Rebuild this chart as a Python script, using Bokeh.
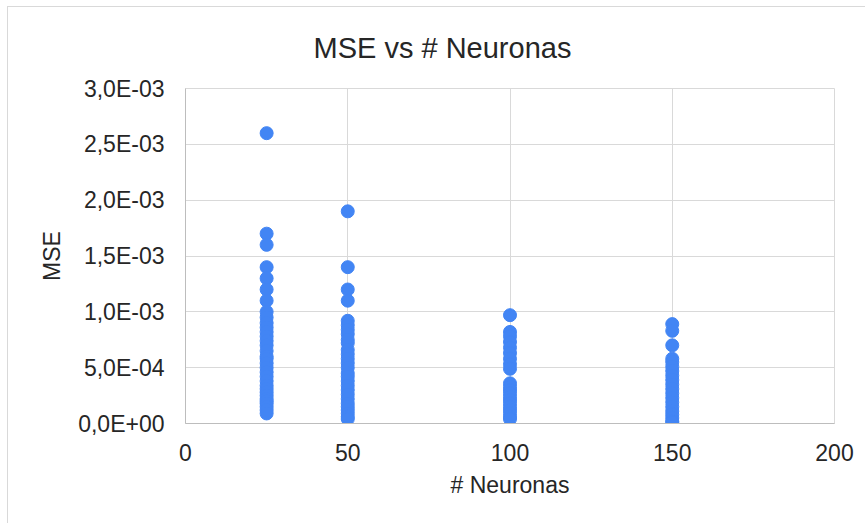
from bokeh.plotting import figure
from bokeh.models import FixedTicker, CustomJSTickFormatter, Range1d, Title
from bokeh.embed import file_html
from bokeh.resources import INLINE

# Data (MSE values)
neurons = [25, 50, 100, 150]
mse_25 = [2.6e-3, 1.7e-3, 1.6e-3, 1.4e-3, 1.3e-3, 1.2e-3, 1.1e-3, 1.0e-3, 9.5e-4, 9.0e-4,
          8.6e-4, 8.2e-4, 7.8e-4, 7.4e-4, 7.0e-4, 6.5e-4, 6.0e-4, 5.8e-4, 5.4e-4, 5.0e-4,
          4.6e-4, 4.2e-4, 3.8e-4, 3.4e-4, 3.1e-4, 2.8e-4, 2.5e-4, 2.2e-4, 2.0e-4, 1.8e-4,
          1.5e-4, 1.2e-4, 0.9e-4]
mse_50 = [1.9e-3, 1.4e-3, 1.2e-3, 1.1e-3, 9.2e-4, 8.8e-4, 8.4e-4, 8.0e-4, 7.5e-4, 7.2e-4,
          6.6e-4, 6.2e-4, 5.8e-4, 5.4e-4, 5.0e-4, 4.5e-4, 4.2e-4, 3.8e-4, 3.4e-4, 3.0e-4,
          2.6e-4, 2.2e-4, 1.8e-4, 1.5e-4, 1.2e-4, 0.9e-4, 0.6e-4, 0.4e-4]
mse_100 = [9.7e-4, 8.2e-4, 7.8e-4, 7.3e-4, 6.8e-4, 6.3e-4, 5.8e-4, 5.3e-4, 4.9e-4, 3.6e-4,
           3.3e-4, 3.0e-4, 2.7e-4, 2.4e-4, 2.1e-4, 1.8e-4, 1.5e-4, 1.2e-4, 0.9e-4, 0.6e-4,
           0.4e-4]
mse_150 = [8.9e-4, 8.3e-4, 7.0e-4, 5.8e-4, 5.5e-4, 5.1e-4, 4.7e-4, 4.3e-4, 3.9e-4, 3.5e-4,
           3.1e-4, 2.7e-4, 2.3e-4, 1.9e-4, 1.5e-4, 1.1e-4, 0.8e-4, 0.5e-4, 0.2e-4, 0.1e-4]

x_ticks = [0, 50, 100, 150, 200]
y_ticks = [0, 5e-4, 1e-3, 1.5e-3, 2e-3, 2.5e-3, 3e-3]
title_text = "MSE vs # Neuronas"

xs, ys = [], []
for n, vals in zip(neurons, [mse_25, mse_50, mse_100, mse_150]):
    xs += [n] * len(vals)
    ys += vals

FONT = "Liberation Sans"
TXT = "#262626"

p = figure(width=858, height=517, output_backend="svg", toolbar_location=None,
           x_range=Range1d(0, 200), y_range=Range1d(0, 3e-3),
           min_border_left=177, min_border_right=32, min_border_top=81,
           min_border_bottom=101, background_fill_color="white",
           border_fill_color="white")
p.margin = (6, 0, 0, 7)
p.styles = {"border-left": "1px solid #d9d9d9", "border-top": "1px solid #d9d9d9"}

t = Title(text=title_text, align="left", offset=128, vertical_align="top",
          text_font=FONT, text_font_size="29px", text_font_style="normal",
          text_color=TXT, standoff=46)
p.add_layout(t, "above")

p.scatter(xs, ys, size=13, color="#4285F4", line_color="#4285F4")

p.xaxis.ticker = FixedTicker(ticks=x_ticks)
p.yaxis.ticker = FixedTicker(ticks=y_ticks)
p.yaxis.formatter = CustomJSTickFormatter(code="""
    const s = tick.toExponential(1);
    const parts = s.split('e');
    const e = parseInt(parts[1]);
    const sign = e < 0 ? '-' : '+';
    const a = Math.abs(e);
    return parts[0].replace('.', ',') + 'E' + sign + (a < 10 ? '0' : '') + a;
""")

for ax in (p.xaxis[0], p.yaxis[0]):
    ax.major_tick_line_color = None
    ax.minor_tick_line_color = None
    ax.axis_line_color = "#bdbdbd"
    ax.major_label_text_font = FONT
    ax.major_label_text_font_size = "23px"
    ax.major_label_text_color = TXT
    ax.axis_label_text_font = FONT
    ax.axis_label_text_font_size = "23px"
    ax.axis_label_text_font_style = "normal"
    ax.axis_label_text_color = TXT

p.xaxis.axis_label = "# Neuronas"
p.yaxis.axis_label = "MSE"
p.xaxis.major_label_standoff = 14
p.yaxis.major_label_standoff = 15
p.xaxis.axis_label_standoff = 8
p.yaxis.axis_label_standoff = 10

p.grid.grid_line_color = "#d9d9d9"
p.outline_line_color = "#d9d9d9"

open("out.html", "w").write(file_html(p, INLINE))
